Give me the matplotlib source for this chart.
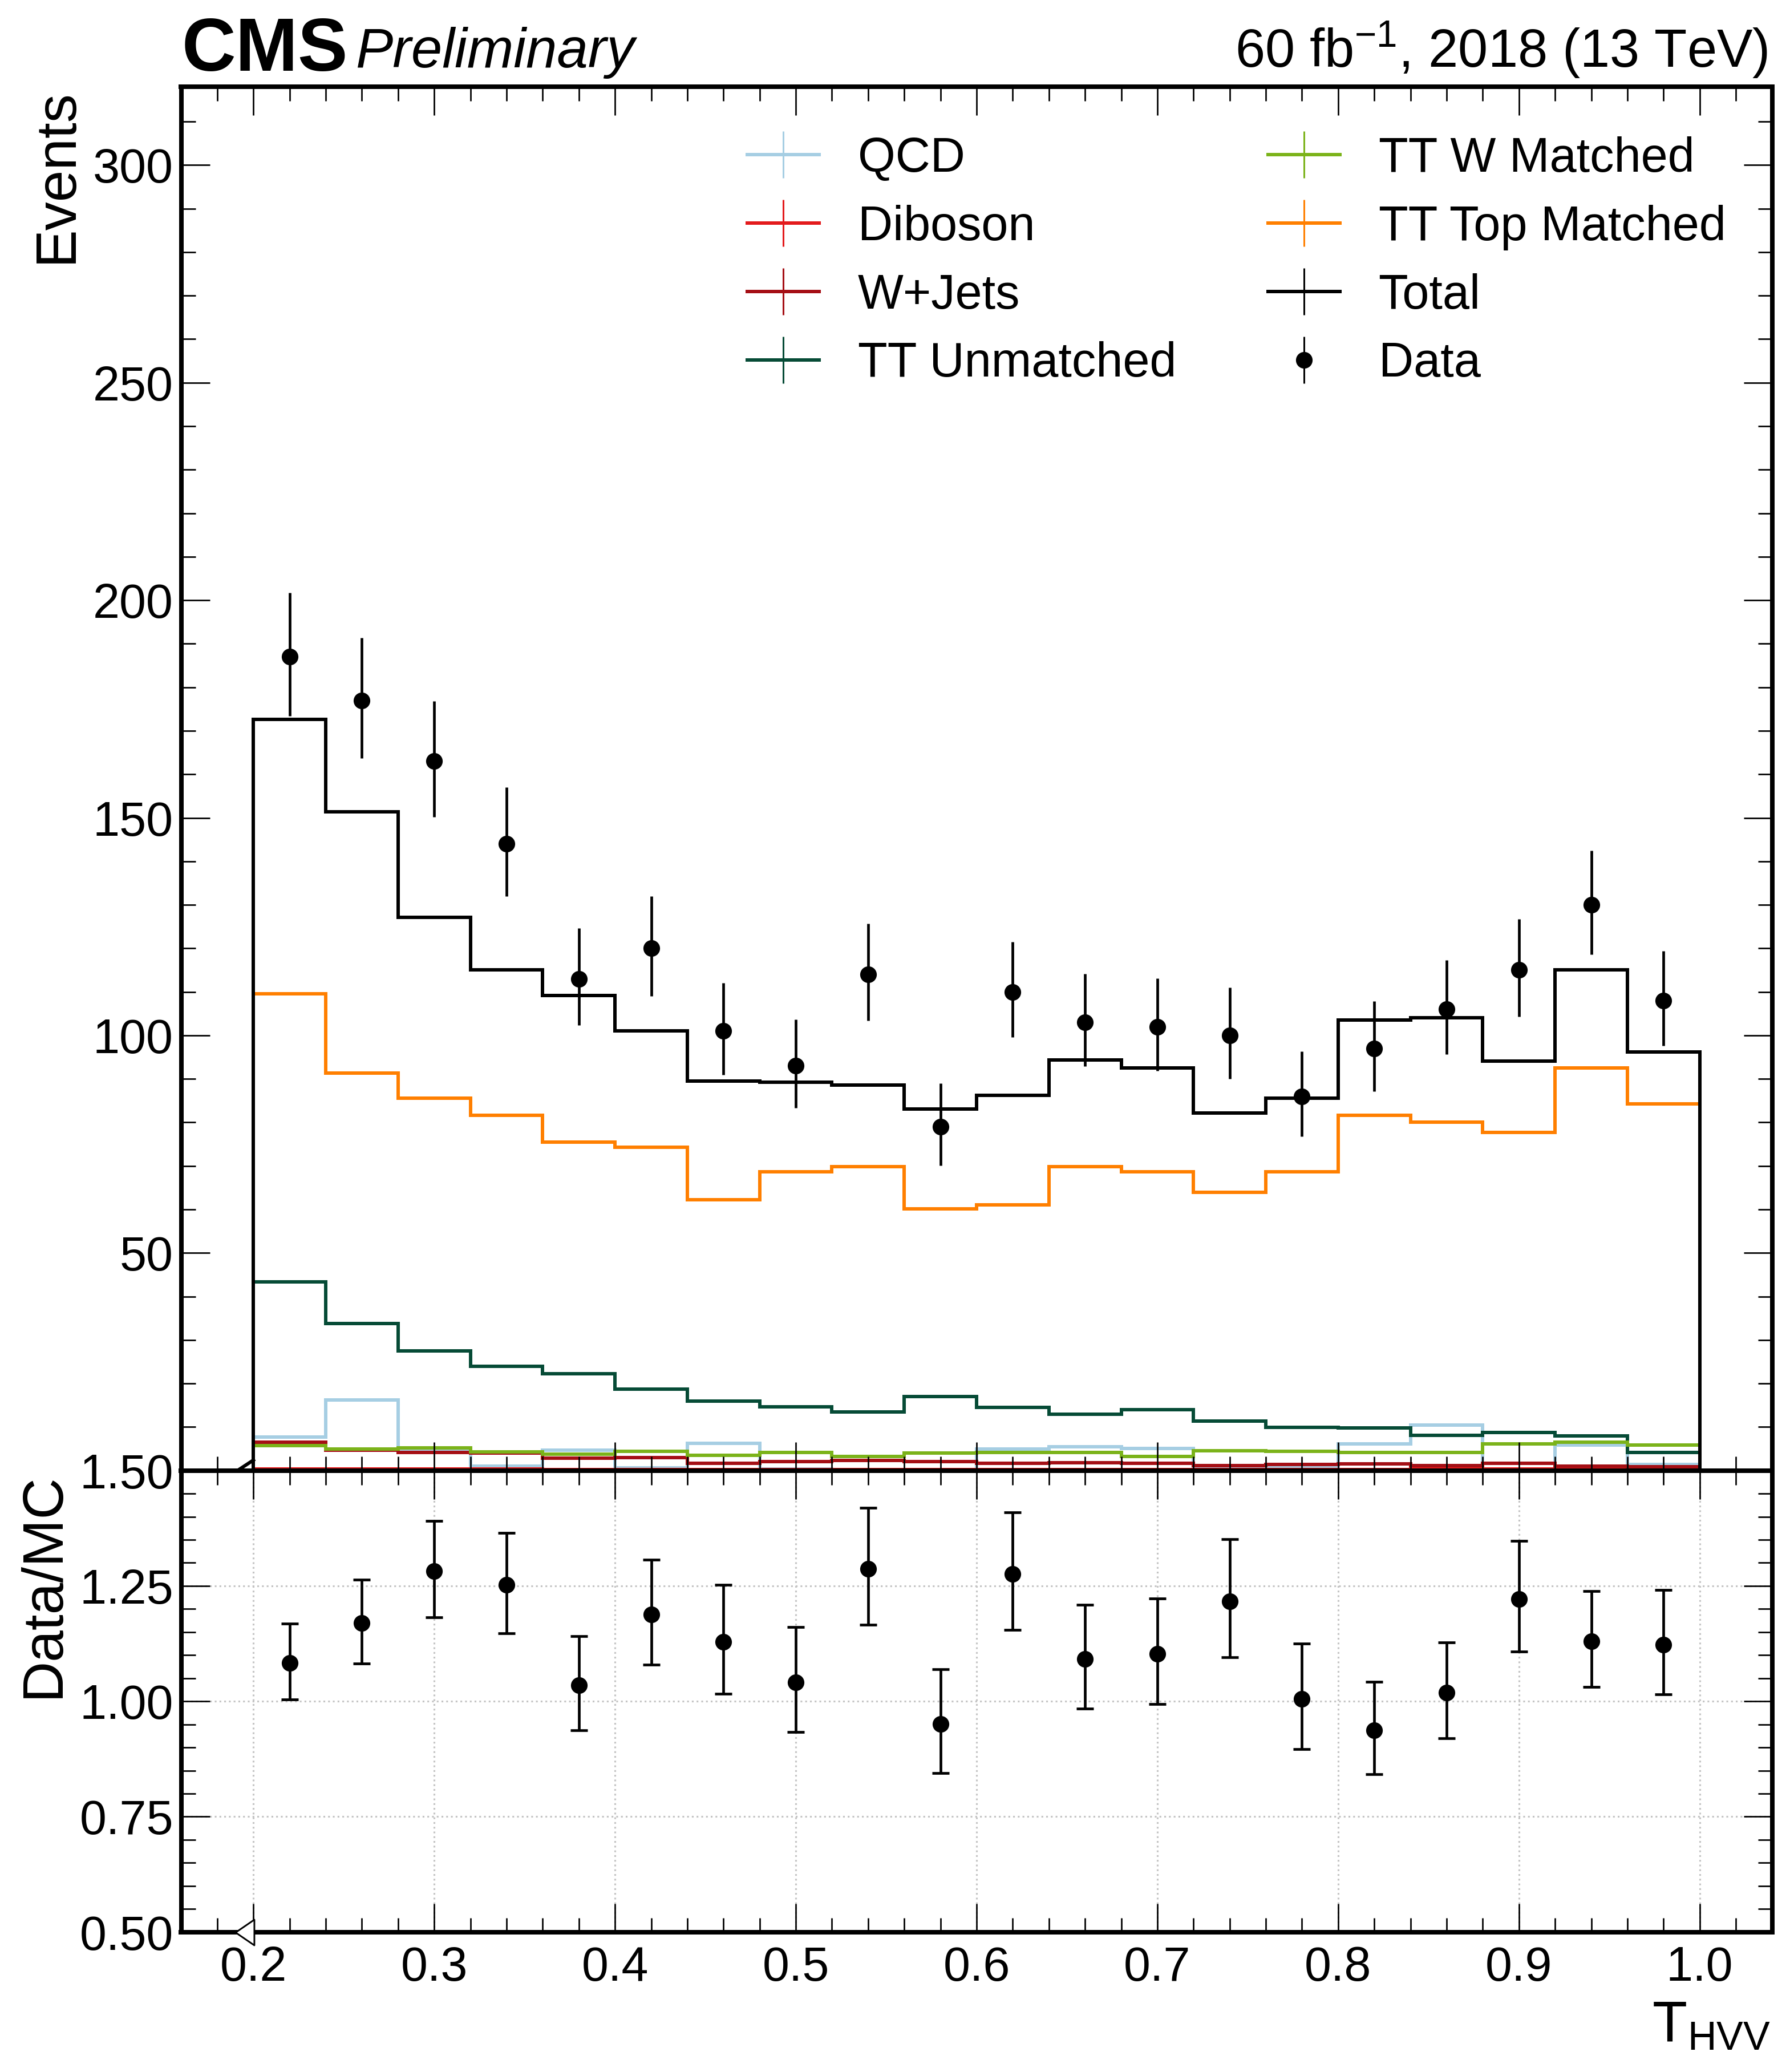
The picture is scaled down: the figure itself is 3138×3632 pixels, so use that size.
import numpy as np
import matplotlib
matplotlib.use("Agg")
import matplotlib.pyplot as plt
from matplotlib.lines import Line2D
from matplotlib.legend_handler import HandlerTuple
from matplotlib.ticker import MultipleLocator, FuncFormatter, FormatStrFormatter

plt.rcParams['font.family'] = ['Liberation Sans', 'DejaVu Sans']
plt.rcParams['mathtext.fontset'] = 'custom'
plt.rcParams['mathtext.rm'] = 'Liberation Sans'
plt.rcParams['mathtext.it'] = 'Liberation Sans:italic'
plt.rcParams['mathtext.bf'] = 'Liberation Sans:bold'

# ---------------- data ----------------
bin_edges = np.round(np.linspace(0.20, 1.00, 21), 2)

qcd = [7.7, 16.2, 4.7, 1.0, 4.7, 0.6, 6.2, 0.3, 0.2, 0.2,
       4.9, 5.5, 5.1, 0.8, 1.0, 6.1, 10.4, 0.2, 5.9, 1.4]
diboson = [0.3, 0.3, 0.3, 0.3, 0.2, 0.2, 0.2, 0.2, 0.2, 0.2,
           0.2, 0.2, 0.2, 0.2, 0.2, 0.2, 0.3, 0.3, 0.3, 0.3]
wjets = [6.5, 4.7, 4.15, 4.0, 2.9, 3.0, 1.7, 2.1, 2.3, 2.1,
         1.6, 1.8, 1.7, 1.2, 1.4, 1.5, 1.1, 1.7, 1.0, 0.9]
tt_unmatched = [43.4, 33.8, 27.5, 23.9, 22.3, 18.7, 15.9, 14.7, 13.4, 17.0,
                14.5, 13.0, 14.0, 11.4, 9.9, 9.8, 8.1, 8.7, 8.0, 4.1]
tt_w_matched = [5.7, 5.0, 5.2, 4.3, 3.8, 4.4, 3.5, 4.1, 3.3, 4.0,
                4.2, 4.15, 3.3, 4.6, 4.4, 4.15, 4.1, 6.1, 6.55, 5.8]
tt_top_matched = [109.5, 91.3, 85.6, 81.6, 75.5, 74.3, 62.2, 68.6, 69.8, 60.1,
                  61.0, 69.8, 68.6, 64.0, 68.6, 81.6, 80.1, 77.7, 92.5, 84.3]
total = [172.6, 151.4, 127.1, 115.0, 109.2, 101.0, 89.5, 89.3, 88.6, 83.1,
         86.2, 94.4, 92.5, 82.2, 85.6, 103.5, 104.1, 94.1, 115.0, 96.2]
data = [187, 177, 163, 144, 113, 120, 101, 93, 114, 79,
        110, 103, 102, 100, 86, 97, 106, 115, 130, 108]

labels = ["QCD", "Diboson", "W+Jets", "TT Unmatched",
          "TT W Matched", "TT Top Matched", "Total", "Data"]
colors = ["#a6cee3", "#e31a1c", "#a50f15", "#064b36",
          "#7bb31a", "#ff7f00", "#000000", "#000000"]

# ---------------- derived ----------------
edges = np.array(bin_edges)
centers = 0.5 * (edges[:-1] + edges[1:])
N = np.array(data, float)
tot = np.array(total, float)
lo = N * (1 - 1 / (9 * N) - 1 / (3 * np.sqrt(N))) ** 3
hi = (N + 1) * (1 - 1 / (9 * (N + 1)) + 1 / (3 * np.sqrt(N + 1))) ** 3
err_lo = N - lo
err_hi = hi - N
ratio = N / tot
r_lo = err_lo / tot
r_hi = err_hi / tot

# ---------------- figure ----------------
W, H, DPI = 3138, 3632, 300
fig = plt.figure(figsize=(W / DPI, H / DPI), dpi=DPI)

def fx(px):
    return px / W

def fy(py):
    return 1 - py / H

L, R = 317.5, 3106.5
T_up, B_up, B_lo = 152.0, 2577.7, 3386.7
ax = fig.add_axes([fx(L), fy(B_up), fx(R) - fx(L), fy(T_up) - fy(B_up)])
rax = fig.add_axes([fx(L), fy(B_lo), fx(R) - fx(L), fy(B_up) - fy(B_lo)], sharex=ax)

LW = 1.44
series = [qcd, diboson, wjets, tt_unmatched, tt_w_matched, tt_top_matched, total]
for i, vals in enumerate(series):
    ax.stairs(vals, edges, baseline=0, color=colors[i], lw=LW, fill=False,
              zorder=1 + 0.01 * i)

ax.errorbar(centers, N, yerr=[err_lo, err_hi], fmt='o', color='k', ms=6,
            elinewidth=1.13, capsize=0, zorder=5)

# underflow indicators
w0 = edges[1] - edges[0]
ax.plot([edges[0] - 0.22 * w0, edges[0]], [0, 2.4], color='k', lw=LW,
        zorder=4, clip_on=True)
tri = [(-0.73, 0.0), (0.73, 1.0), (0.73, -1.0), (-0.73, 0.0)]
rax.plot([edges[0] - 0.12 * w0], [0.5], marker=tri, ms=10.8, mfc='white',
         mec='k', mew=0.7, ls='none', clip_on=False, zorder=10)

rax.errorbar(centers, ratio, yerr=[r_lo, r_hi], fmt='o', color='k', ms=6,
             elinewidth=1.13, capsize=3.6, capthick=1.13, zorder=5)

# axes styling
ax.set_xlim(0.16, 1.04)
ax.set_ylim(0, 318)
rax.set_ylim(0.5, 1.5)

ax.xaxis.set_major_locator(MultipleLocator(0.1))
ax.xaxis.set_minor_locator(MultipleLocator(0.02))
ax.yaxis.set_major_locator(MultipleLocator(50))
ax.yaxis.set_minor_locator(MultipleLocator(10))
ax.yaxis.set_major_formatter(FuncFormatter(lambda v, p: "" if abs(v) < 1e-9 else f"{v:.0f}"))
rax.yaxis.set_major_locator(MultipleLocator(0.25))
rax.yaxis.set_minor_locator(MultipleLocator(0.05))
rax.yaxis.set_major_formatter(FormatStrFormatter("%.2f"))
rax.xaxis.set_major_formatter(FormatStrFormatter("%.1f"))
plt.setp(ax.get_xticklabels(), visible=False)

for a in (ax, rax):
    a.tick_params(which='both', direction='in', top=True, right=True,
                  labelsize=20.3)
    a.tick_params(which='major', length=12, width=0.65)
    a.tick_params(which='minor', length=6, width=0.65)
    a.tick_params(axis='x', pad=5.5)
    a.tick_params(axis='y', pad=3.3)
    for s in a.spines.values():
        s.set_linewidth(1.92)

rax.grid(True, which='major', color='#c4c4c4', linestyle=':', linewidth=0.75)
rax.set_axisbelow(True)

# legend
handles = []
for lab, c in zip(labels, colors):
    vbar = Line2D([], [], color=c, ls='none', marker='|', ms=19.7, mew=0.72)
    if lab == "Data":
        first = Line2D([], [], color=c, ls='none', marker='o', ms=6)
    else:
        first = Line2D([], [], color=c, lw=LW)
    handles.append((first, vbar))
ax.legend(handles, labels, ncol=2, loc='upper left',
          bbox_to_anchor=(fx(1310), fy(239)), bbox_transform=fig.transFigure,
          handler_map={tuple: HandlerTuple(ndivide=1, pad=0)},
          fontsize=20.3, frameon=False, borderpad=0, borderaxespad=0,
          handlelength=1.49, handletextpad=0.8, columnspacing=1.9,
          labelspacing=0.47)

# texts
fig.text(fx(319), fy(124), "CMS", weight='bold', size=31.5, ha='left', va='baseline')
fig.text(fx(624), fy(118), "Preliminary", style='italic', size=23.5, ha='left', va='baseline')
fig.text(fx(3099), fy(118), r"60 fb$^{-1}$, 2018 (13 TeV)", size=22.5, ha='right', va='baseline')
fig.text(fx(126), fy(155), "Events", size=24, rotation=90, rotation_mode='anchor',
         ha='right', va='baseline')
fig.text(fx(103), fy(2581), "Data/MC", size=24, rotation=90, rotation_mode='anchor',
         ha='right', va='baseline')
fig.text(fx(3104), fy(3578), r"$\mathrm{T}_{\mathrm{HVV}}$", size=24, ha='right', va='baseline')

fig.savefig("out.png", dpi=DPI)
